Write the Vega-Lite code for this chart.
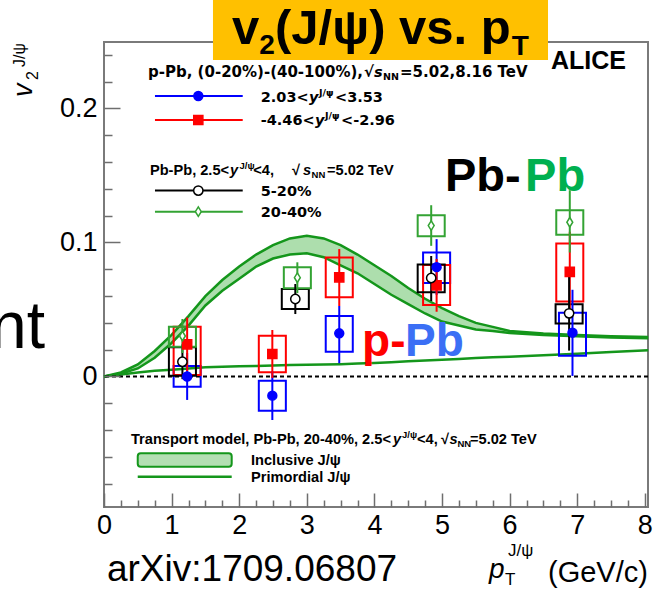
{
  "$schema": "https://vega.github.io/schema/vega-lite/v6.json",
  "width": 544,
  "height": 465,
  "autosize": "none",
  "padding": {"left": 104, "top": 42, "right": 5, "bottom": 83},
  "background": "white",
  "config": {
    "view": {"stroke": "#7a7a7a", "strokeWidth": 2},
    "axis": {"grid": false, "domain": false, "labelFont": "Liberation Sans", "labelFontSize": 27, "labelColor": "#000000", "tickColor": "#6e6e6e", "tickWidth": 1.5, "labelFlush": false, "labelOverlap": false, "labelBound": false, "title": null}
  },
  "datasets": {
    "model": [
      {"x": 0, "incLo": 0, "incHi": 0, "prim": 0},
      {"x": 0.25, "incLo": 0.002, "incHi": 0.003, "prim": 0.0015},
      {"x": 0.5, "incLo": 0.006, "incHi": 0.009, "prim": 0.003},
      {"x": 0.75, "incLo": 0.014, "incHi": 0.019, "prim": 0.0042},
      {"x": 1.0, "incLo": 0.025, "incHi": 0.031, "prim": 0.005},
      {"x": 1.25, "incLo": 0.038, "incHi": 0.045, "prim": 0.006},
      {"x": 1.5, "incLo": 0.053, "incHi": 0.06, "prim": 0.0068},
      {"x": 1.75, "incLo": 0.064, "incHi": 0.072, "prim": 0.0072},
      {"x": 2.0, "incLo": 0.073, "incHi": 0.082, "prim": 0.0076},
      {"x": 2.25, "incLo": 0.082, "incHi": 0.091, "prim": 0.0079},
      {"x": 2.5, "incLo": 0.088, "incHi": 0.098, "prim": 0.0082},
      {"x": 2.75, "incLo": 0.091, "incHi": 0.103, "prim": 0.0085},
      {"x": 3.0, "incLo": 0.092, "incHi": 0.105, "prim": 0.0087},
      {"x": 3.25, "incLo": 0.089, "incHi": 0.103, "prim": 0.0089},
      {"x": 3.5, "incLo": 0.083, "incHi": 0.098, "prim": 0.0092},
      {"x": 3.75, "incLo": 0.077, "incHi": 0.091, "prim": 0.0096},
      {"x": 4.0, "incLo": 0.069, "incHi": 0.083, "prim": 0.0101},
      {"x": 4.25, "incLo": 0.061, "incHi": 0.075, "prim": 0.0107},
      {"x": 4.5, "incLo": 0.054, "incHi": 0.066, "prim": 0.0113},
      {"x": 4.75, "incLo": 0.047, "incHi": 0.058, "prim": 0.0119},
      {"x": 5.0, "incLo": 0.041, "incHi": 0.051, "prim": 0.0125},
      {"x": 5.25, "incLo": 0.038, "incHi": 0.045, "prim": 0.0131},
      {"x": 5.5, "incLo": 0.035, "incHi": 0.04, "prim": 0.0137},
      {"x": 5.75, "incLo": 0.034, "incHi": 0.037, "prim": 0.0143},
      {"x": 6.0, "incLo": 0.0325, "incHi": 0.034, "prim": 0.0148},
      {"x": 6.5, "incLo": 0.031, "incHi": 0.032, "prim": 0.0159},
      {"x": 7.0, "incLo": 0.03, "incHi": 0.031, "prim": 0.017},
      {"x": 7.5, "incLo": 0.029, "incHi": 0.03, "prim": 0.0182},
      {"x": 8.05, "incLo": 0.0285, "incHi": 0.0295, "prim": 0.0195}
    ],
    "pts": [
      {"s": "fwd", "x": 1.23, "xLo": 1.03, "xHi": 1.43, "v": 0.0, "statLo": -0.0175, "statHi": 0.0175, "sysLo": -0.0076, "sysHi": 0.0078},
      {"s": "fwd", "x": 2.49, "xLo": 2.29, "xHi": 2.69, "v": -0.0143, "statLo": -0.0325, "statHi": 0.0039, "sysLo": -0.0255, "sysHi": -0.0031},
      {"s": "fwd", "x": 3.48, "xLo": 3.28, "xHi": 3.68, "v": 0.0322, "statLo": 0.0099, "statHi": 0.0526, "sysLo": 0.0185, "sysHi": 0.0451},
      {"s": "fwd", "x": 4.92, "xLo": 4.72, "xHi": 5.12, "v": 0.0816, "statLo": 0.0609, "statHi": 0.1025, "sysLo": 0.0698, "sysHi": 0.0925},
      {"s": "fwd", "x": 6.93, "xLo": 6.73, "xHi": 7.13, "v": 0.0327, "statLo": 0.0004, "statHi": 0.0647, "sysLo": 0.0155, "sysHi": 0.0475},
      {"s": "bwd", "x": 1.23, "xLo": 1.03, "xHi": 1.43, "v": 0.024, "statLo": 0.004, "statHi": 0.044, "sysLo": 0.0011, "sysHi": 0.0372},
      {"s": "bwd", "x": 2.49, "xLo": 2.29, "xHi": 2.69, "v": 0.0168, "statLo": -0.0011, "statHi": 0.0347, "sysLo": 0.0031, "sysHi": 0.0304},
      {"s": "bwd", "x": 3.48, "xLo": 3.28, "xHi": 3.68, "v": 0.074, "statLo": 0.0526, "statHi": 0.0951, "sysLo": 0.0591, "sysHi": 0.0887},
      {"s": "bwd", "x": 4.92, "xLo": 4.72, "xHi": 5.12, "v": 0.068, "statLo": 0.0483, "statHi": 0.0877, "sysLo": 0.0534, "sysHi": 0.0831},
      {"s": "bwd", "x": 6.89, "xLo": 6.69, "xHi": 7.09, "v": 0.0781, "statLo": 0.048, "statHi": 0.108, "sysLo": 0.0559, "sysHi": 0.0993},
      {"s": "c520", "x": 1.16, "xLo": 0.96, "xHi": 1.36, "v": 0.011, "statLo": -0.002, "statHi": 0.024, "sysLo": 0.0006, "sysHi": 0.0218},
      {"s": "c520", "x": 2.83, "xLo": 2.63, "xHi": 3.03, "v": 0.0578, "statLo": 0.0466, "statHi": 0.069, "sysLo": 0.0504, "sysHi": 0.0653},
      {"s": "c520", "x": 4.84, "xLo": 4.64, "xHi": 5.04, "v": 0.0735, "statLo": 0.0563, "statHi": 0.0899, "sysLo": 0.0629, "sysHi": 0.0836},
      {"s": "c520", "x": 6.88, "xLo": 6.68, "xHi": 7.08, "v": 0.0471, "statLo": 0.0193, "statHi": 0.0748, "sysLo": 0.0395, "sysHi": 0.0539},
      {"s": "c2040", "x": 1.16, "xLo": 0.96, "xHi": 1.36, "v": 0.0302, "statLo": 0.0175, "statHi": 0.0429, "sysLo": 0.0222, "sysHi": 0.0372},
      {"s": "c2040", "x": 2.86, "xLo": 2.66, "xHi": 3.06, "v": 0.0737, "statLo": 0.0622, "statHi": 0.0852, "sysLo": 0.0658, "sysHi": 0.0815},
      {"s": "c2040", "x": 4.84, "xLo": 4.64, "xHi": 5.04, "v": 0.1126, "statLo": 0.0975, "statHi": 0.1278, "sysLo": 0.1046, "sysHi": 0.1204},
      {"s": "c2040", "x": 6.89, "xLo": 6.69, "xHi": 7.09, "v": 0.1151, "statLo": 0.0925, "statHi": 0.139, "sysLo": 0.1058, "sysHi": 0.124}
    ],
    "leg": [
      {"s": "fwd", "y": 0.2093},
      {"s": "bwd", "y": 0.1914},
      {"s": "c520", "y": 0.1387},
      {"s": "c2040", "y": 0.123}
    ]
  },
  "resolve": {"axis": {"x": "independent", "y": "independent"}},
  "layer": [
    {
      "data": {"name": "model"},
      "mark": {"type": "area", "color": "#a9dca9", "opacity": 0.95},
      "encoding": {
        "x": {"field": "x", "type": "quantitative", "scale": {"domain": [0, 8.047], "nice": false, "zero": false},
              "axis": {"orient": "bottom", "values": [0, 1, 2, 3, 4, 5, 6, 7, 8], "format": "d", "ticks": false, "labelPadding": 5}},
        "y": {"field": "incLo", "type": "quantitative", "scale": {"domain": [-0.0974, 0.2496], "nice": false, "zero": false},
              "axis": {"orient": "left", "values": [0, 0.1, 0.2], "format": "~g", "ticks": false, "labelPadding": 7}},
        "y2": {"field": "incHi"}
      }
    },
    {
      "data": {"name": "model"},
      "mark": {"type": "line", "color": "#14961b", "strokeWidth": 2.5},
      "encoding": {
        "x": {"field": "x", "type": "quantitative",
              "axis": {"orient": "bottom", "values": [0, 1, 2, 3, 4, 5, 6, 7, 8], "labels": false, "tickSize": -14, "zindex": 1}},
        "y": {"field": "incHi", "type": "quantitative",
              "axis": {"orient": "left", "values": [0, 0.1, 0.2], "labels": false, "tickSize": -16, "zindex": 1}}
      }
    },
    {
      "data": {"name": "model"},
      "mark": {"type": "line", "color": "#14961b", "strokeWidth": 2.5},
      "encoding": {
        "x": {"field": "x", "type": "quantitative",
              "axis": {"orient": "bottom", "values": [0.25, 0.5, 0.75, 1.25, 1.5, 1.75, 2.25, 2.5, 2.75, 3.25, 3.5, 3.75, 4.25, 4.5, 4.75, 5.25, 5.5, 5.75, 6.25, 6.5, 6.75, 7.25, 7.5, 7.75], "labels": false, "tickSize": -7, "zindex": 1}},
        "y": {"field": "incLo", "type": "quantitative",
              "axis": {"orient": "left", "values": [-0.08, -0.06, -0.04, -0.02, 0.02, 0.04, 0.06, 0.08, 0.12, 0.14, 0.16, 0.18, 0.22, 0.24], "labels": false, "tickSize": -8, "zindex": 1}}
      }
    },
    {
      "data": {"name": "model"},
      "mark": {"type": "line", "color": "#14961b", "strokeWidth": 2.5},
      "encoding": {
        "x": {"field": "x", "type": "quantitative", "axis": null},
        "y": {"field": "prim", "type": "quantitative", "axis": null}
      }
    },
    {
      "data": {"values": [{}]},
      "mark": {"type": "rule", "color": "#000000", "strokeWidth": 2, "strokeDash": [4, 3]},
      "encoding": {"y": {"datum": 0, "type": "quantitative", "axis": null}}
    },
    {
      "data": {"name": "pts"},
      "mark": {"type": "rect", "filled": false, "strokeWidth": 2},
      "encoding": {
        "x": {"field": "xLo", "type": "quantitative", "axis": null},
        "x2": {"field": "xHi"},
        "y": {"field": "sysLo", "type": "quantitative", "axis": null},
        "y2": {"field": "sysHi"},
        "stroke": {"field": "s", "type": "nominal", "legend": null, "scale": {"domain": ["fwd", "bwd", "c520", "c2040"], "range": ["#0000ff", "#ff0000", "#000000", "#33a333"]}}
      }
    },
    {
      "data": {"name": "pts"},
      "mark": {"type": "rule", "strokeWidth": 2},
      "encoding": {
        "x": {"field": "x", "type": "quantitative", "axis": null},
        "y": {"field": "statLo", "type": "quantitative", "axis": null},
        "y2": {"field": "statHi"},
        "stroke": {"field": "s", "type": "nominal", "legend": null, "scale": {"domain": ["fwd", "bwd", "c520", "c2040"], "range": ["#0000ff", "#ff0000", "#000000", "#33a333"]}}
      }
    },
    {
      "data": {"name": "pts"},
      "mark": {"type": "point", "filled": true, "strokeWidth": 1.5, "opacity": 1},
      "encoding": {
        "x": {"field": "x", "type": "quantitative", "axis": null},
        "y": {"field": "v", "type": "quantitative", "axis": null},
        "shape": {"field": "s", "type": "nominal", "legend": null, "scale": {"domain": ["fwd", "bwd", "c520", "c2040"], "range": ["circle", "square", "circle", "M0,-1L0.62,0L0,1L-0.62,0Z"]}},
        "size": {"field": "s", "type": "nominal", "legend": null, "scale": {"domain": ["fwd", "bwd", "c520", "c2040"], "range": [80, 90, 95, 180]}},
        "fill": {"field": "s", "type": "nominal", "legend": null, "scale": {"domain": ["fwd", "bwd", "c520", "c2040"], "range": ["#0000ff", "#ff0000", "#ffffff", "#ffffff"]}},
        "stroke": {"field": "s", "type": "nominal", "legend": null, "scale": {"domain": ["fwd", "bwd", "c520", "c2040"], "range": ["#0000ff", "#ff0000", "#000000", "#33a333"]}}
      }
    },
    {
      "data": {"name": "leg"},
      "mark": {"type": "rule", "strokeWidth": 2},
      "encoding": {
        "x": {"datum": 0.754, "type": "quantitative", "axis": null},
        "x2": {"datum": 2.052},
        "y": {"field": "y", "type": "quantitative", "axis": null},
        "stroke": {"field": "s", "type": "nominal", "legend": null, "scale": {"domain": ["fwd", "bwd", "c520", "c2040"], "range": ["#0000ff", "#ff0000", "#000000", "#33a333"]}}
      }
    },
    {
      "data": {"name": "leg"},
      "mark": {"type": "point", "filled": true, "strokeWidth": 1.5, "opacity": 1},
      "encoding": {
        "x": {"datum": 1.395, "type": "quantitative", "axis": null},
        "y": {"field": "y", "type": "quantitative", "axis": null},
        "shape": {"field": "s", "type": "nominal", "legend": null, "scale": {"domain": ["fwd", "bwd", "c520", "c2040"], "range": ["circle", "square", "circle", "M0,-1L0.62,0L0,1L-0.62,0Z"]}},
        "size": {"field": "s", "type": "nominal", "legend": null, "scale": {"domain": ["fwd", "bwd", "c520", "c2040"], "range": [80, 90, 95, 180]}},
        "fill": {"field": "s", "type": "nominal", "legend": null, "scale": {"domain": ["fwd", "bwd", "c520", "c2040"], "range": ["#0000ff", "#ff0000", "#ffffff", "#ffffff"]}},
        "stroke": {"field": "s", "type": "nominal", "legend": null, "scale": {"domain": ["fwd", "bwd", "c520", "c2040"], "range": ["#0000ff", "#ff0000", "#000000", "#33a333"]}}
      }
    },
    {
      "data": {"values": [{}]},
      "mark": {"type": "rect", "fill": "#b3dfb3", "stroke": "#14961b", "strokeWidth": 2, "cornerRadius": 3},
      "encoding": {
        "x": {"datum": 0.499, "type": "quantitative", "axis": null},
        "x2": {"datum": 1.889},
        "y": {"datum": -0.0573, "type": "quantitative", "axis": null},
        "y2": {"datum": -0.0673}
      }
    },
    {
      "data": {"values": [{}]},
      "mark": {"type": "rule", "color": "#14961b", "strokeWidth": 2.5},
      "encoding": {
        "x": {"datum": 0.499, "type": "quantitative", "axis": null},
        "x2": {"datum": 1.889},
        "y": {"datum": -0.0748, "type": "quantitative", "axis": null}
      }
    },
    {
      "data": {"values": [{}]},
      "mark": {"type": "rect", "fill": "#ffc000"},
      "encoding": {
        "x": {"datum": 1.612, "type": "quantitative", "axis": null},
        "x2": {"datum": 6.568},
        "y": {"datum": 0.281, "type": "quantitative", "axis": null},
        "y2": {"datum": 0.2362}
      }
    },
    {
      "data": {"values": [
        {"x": 0.651, "y": 0.2235, "t": "p-Pb, (0-20%)-(40-100%),"},
        {"x": 3.846, "y": 0.2235, "t": "√"},
        {"x": 4.379, "y": 0.2235, "t": "=5.02,8.16 TeV"}
      ]},
      "mark": {"type": "text", "font": "DejaVu Sans", "fontWeight": "bold", "fontSize": 15, "align": "left", "baseline": "alphabetic", "color": "#000000"},
      "encoding": {"x": {"field": "x", "type": "quantitative", "axis": null}, "y": {"field": "y", "type": "quantitative", "axis": null}, "text": {"field": "t"}}
    },
    {
      "data": {"values": [
        {"x": 2.318, "y": 0.205, "t": "2.03<"},
        {"x": 3.417, "y": 0.205, "t": "<3.53"},
        {"x": 2.318, "y": 0.1875, "t": "-4.46<"},
        {"x": 3.506, "y": 0.1875, "t": "<-2.96"},
        {"x": 2.318, "y": 0.1347, "t": "5-20%"},
        {"x": 2.318, "y": 0.119, "t": "20-40%"}
      ]},
      "mark": {"type": "text", "font": "DejaVu Sans", "fontWeight": "bold", "fontSize": 14.5, "align": "left", "baseline": "alphabetic", "color": "#000000"},
      "encoding": {"x": {"field": "x", "type": "quantitative", "axis": null}, "y": {"field": "y", "type": "quantitative", "axis": null}, "text": {"field": "t"}}
    },
    {
      "data": {"values": [
        {"x": 3.994, "y": 0.2235, "t": "s"},
        {"x": 3.033, "y": 0.205, "t": "y"},
        {"x": 3.121, "y": 0.1875, "t": "y"}
      ]},
      "mark": {"type": "text", "font": "DejaVu Sans", "fontWeight": "bold", "fontStyle": "italic", "fontSize": 14.5, "align": "left", "baseline": "alphabetic", "color": "#000000"},
      "encoding": {"x": {"field": "x", "type": "quantitative", "axis": null}, "y": {"field": "y", "type": "quantitative", "axis": null}, "text": {"field": "t"}}
    },
    {
      "data": {"values": [
        {"x": 4.127, "y": 0.2213, "t": "NN"},
        {"x": 3.18, "y": 0.2095, "t": "J/ψ"},
        {"x": 3.269, "y": 0.1921, "t": "J/ψ"}
      ]},
      "mark": {"type": "text", "font": "DejaVu Sans", "fontWeight": "bold", "fontSize": 9.5, "align": "left", "baseline": "alphabetic", "color": "#000000"},
      "encoding": {"x": {"field": "x", "type": "quantitative", "axis": null}, "y": {"field": "y", "type": "quantitative", "axis": null}, "text": {"field": "t"}}
    },
    {
      "data": {"values": [
        {"x": 0.68, "y": 0.1507, "t": "Pb-Pb, 2.5<"},
        {"x": 2.209, "y": 0.1507, "t": "<4,"},
        {"x": 2.781, "y": 0.1507, "t": "√"},
        {"x": 3.299, "y": 0.1507, "t": "=5.02 TeV"},
        {"x": 0.399, "y": -0.0501, "t": "Transport model, Pb-Pb, 20-40%, 2.5<"},
        {"x": 4.63, "y": -0.0501, "t": "<4,"},
        {"x": 4.985, "y": -0.0501, "t": "√"},
        {"x": 5.414, "y": -0.0501, "t": "=5.02 TeV"},
        {"x": 2.175, "y": -0.0657, "t": "Inclusive J/ψ"},
        {"x": 2.175, "y": -0.0787, "t": "Primordial J/ψ"}
      ]},
      "mark": {"type": "text", "font": "Liberation Sans", "fontWeight": "bold", "fontSize": 14.6, "align": "left", "baseline": "alphabetic", "color": "#000000"},
      "encoding": {"x": {"field": "x", "type": "quantitative", "axis": null}, "y": {"field": "y", "type": "quantitative", "axis": null}, "text": {"field": "t"}}
    },
    {
      "data": {"values": [
        {"x": 1.864, "y": 0.1507, "t": "y"},
        {"x": 2.944, "y": 0.1507, "t": "s"},
        {"x": 4.275, "y": -0.0501, "t": "y"},
        {"x": 5.111, "y": -0.0501, "t": "s"}
      ]},
      "mark": {"type": "text", "font": "Liberation Sans", "fontWeight": "bold", "fontStyle": "italic", "fontSize": 14.6, "align": "left", "baseline": "alphabetic", "color": "#000000"},
      "encoding": {"x": {"field": "x", "type": "quantitative", "axis": null}, "y": {"field": "y", "type": "quantitative", "axis": null}, "text": {"field": "t"}}
    },
    {
      "data": {"values": [
        {"x": 2.004, "y": 0.1552, "t": "J/ψ"},
        {"x": 3.07, "y": 0.1484, "t": "NN"},
        {"x": 4.408, "y": -0.0456, "t": "J/ψ"},
        {"x": 5.229, "y": -0.0523, "t": "NN"}
      ]},
      "mark": {"type": "text", "font": "Liberation Sans", "fontWeight": "bold", "fontSize": 9.5, "align": "left", "baseline": "alphabetic", "color": "#000000"},
      "encoding": {"x": {"field": "x", "type": "quantitative", "axis": null}, "y": {"field": "y", "type": "quantitative", "axis": null}, "text": {"field": "t"}}
    },
    {
      "data": {"values": [
        {"x": 1.893, "y": 0.2481, "t": "v"},
        {"x": 2.53, "y": 0.2481, "t": "(J/ψ) vs. p"}
      ]},
      "mark": {"type": "text", "font": "Liberation Sans", "fontWeight": "bold", "fontSize": 49, "align": "left", "baseline": "alphabetic", "color": "#000000"},
      "encoding": {"x": {"field": "x", "type": "quantitative", "axis": null}, "y": {"field": "y", "type": "quantitative", "axis": null}, "text": {"field": "t"}}
    },
    {
      "data": {"values": [
        {"x": 2.296, "y": 0.2407, "t": "2"},
        {"x": 6.03, "y": 0.24, "t": "T"}
      ]},
      "mark": {"type": "text", "font": "Liberation Sans", "fontWeight": "bold", "fontSize": 28, "align": "left", "baseline": "alphabetic", "color": "#000000"},
      "encoding": {"x": {"field": "x", "type": "quantitative", "axis": null}, "y": {"field": "y", "type": "quantitative", "axis": null}, "text": {"field": "t"}}
    },
    {
      "data": {"values": [{"x": 6.612, "y": 0.2295, "t": "ALICE"}]},
      "mark": {"type": "text", "font": "Liberation Sans", "fontWeight": "bold", "fontSize": 25, "align": "left", "baseline": "alphabetic", "color": "#000000"},
      "encoding": {"x": {"field": "x", "type": "quantitative", "axis": null}, "y": {"field": "y", "type": "quantitative", "axis": null}, "text": {"field": "t"}}
    },
    {
      "data": {"values": [{"x": 5.044, "y": 0.1387, "t": "Pb-"}]},
      "mark": {"type": "text", "font": "Liberation Sans", "fontWeight": "bold", "fontSize": 47, "align": "left", "baseline": "alphabetic", "color": "#000000"},
      "encoding": {"x": {"field": "x", "type": "quantitative", "axis": null}, "y": {"field": "y", "type": "quantitative", "axis": null}, "text": {"field": "t"}}
    },
    {
      "data": {"values": [{"x": 6.228, "y": 0.1387, "t": "Pb"}]},
      "mark": {"type": "text", "font": "Liberation Sans", "fontWeight": "bold", "fontSize": 47, "align": "left", "baseline": "alphabetic", "color": "#00b050"},
      "encoding": {"x": {"field": "x", "type": "quantitative", "axis": null}, "y": {"field": "y", "type": "quantitative", "axis": null}, "text": {"field": "t"}}
    },
    {
      "data": {"values": [{"x": 3.817, "y": 0.0153, "t": "p-"}]},
      "mark": {"type": "text", "font": "Liberation Sans", "fontWeight": "bold", "fontSize": 46, "align": "left", "baseline": "alphabetic", "color": "#ff0000"},
      "encoding": {"x": {"field": "x", "type": "quantitative", "axis": null}, "y": {"field": "y", "type": "quantitative", "axis": null}, "text": {"field": "t"}}
    },
    {
      "data": {"values": [{"x": 4.453, "y": 0.0153, "t": "Pb"}]},
      "mark": {"type": "text", "font": "Liberation Sans", "fontWeight": "bold", "fontSize": 46, "align": "left", "baseline": "alphabetic", "color": "#3b6ff5"},
      "encoding": {"x": {"field": "x", "type": "quantitative", "axis": null}, "y": {"field": "y", "type": "quantitative", "axis": null}, "text": {"field": "t"}}
    },
    {
      "data": {"values": [{"x": -0.873, "y": 0.0213, "t": "nt"}]},
      "mark": {"type": "text", "font": "Liberation Sans", "fontSize": 66, "align": "right", "baseline": "alphabetic", "color": "#000000"},
      "encoding": {"x": {"field": "x", "type": "quantitative", "axis": null}, "y": {"field": "y", "type": "quantitative", "axis": null}, "text": {"field": "t"}}
    },
    {
      "data": {"values": [{"x": 0.044, "y": -0.1527, "t": "arXiv:1709.06807"}]},
      "mark": {"type": "text", "font": "Liberation Sans", "fontSize": 37, "align": "left", "baseline": "alphabetic", "color": "#000000"},
      "encoding": {"x": {"field": "x", "type": "quantitative", "axis": null}, "y": {"field": "y", "type": "quantitative", "axis": null}, "text": {"field": "t"}}
    },
    {
      "data": {"values": [{"x": 5.695, "y": -0.1504, "t": "p"}]},
      "mark": {"type": "text", "font": "Liberation Sans", "fontStyle": "italic", "fontSize": 28, "align": "left", "baseline": "alphabetic", "color": "#000000"},
      "encoding": {"x": {"field": "x", "type": "quantitative", "axis": null}, "y": {"field": "y", "type": "quantitative", "axis": null}, "text": {"field": "t"}}
    },
    {
      "data": {"values": [{"x": 6.568, "y": -0.1534, "t": "(GeV/c)"}]},
      "mark": {"type": "text", "font": "Liberation Sans", "fontSize": 29, "align": "left", "baseline": "alphabetic", "color": "#000000"},
      "encoding": {"x": {"field": "x", "type": "quantitative", "axis": null}, "y": {"field": "y", "type": "quantitative", "axis": null}, "text": {"field": "t"}}
    },
    {
      "data": {"values": [
        {"x": 5.976, "y": -0.134, "t": "J/ψ"},
        {"x": 5.932, "y": -0.1556, "t": "T"}
      ]},
      "mark": {"type": "text", "font": "Liberation Sans", "fontSize": 17, "align": "left", "baseline": "alphabetic", "color": "#000000"},
      "encoding": {"x": {"field": "x", "type": "quantitative", "axis": null}, "y": {"field": "y", "type": "quantitative", "axis": null}, "text": {"field": "t"}}
    },
    {
      "data": {"values": [{"x": -1.065, "y": 0.2086, "t": "v"}]},
      "mark": {"type": "text", "font": "Liberation Sans", "fontStyle": "italic", "fontSize": 27, "angle": 270, "align": "left", "baseline": "alphabetic", "color": "#000000"},
      "encoding": {"x": {"field": "x", "type": "quantitative", "axis": null}, "y": {"field": "y", "type": "quantitative", "axis": null}, "text": {"field": "t"}}
    },
    {
      "data": {"values": [
        {"x": -0.976, "y": 0.2213, "t": "2"},
        {"x": -1.169, "y": 0.231, "t": "J/ψ"}
      ]},
      "mark": {"type": "text", "font": "Liberation Sans", "fontSize": 16, "angle": 270, "align": "left", "baseline": "alphabetic", "color": "#000000"},
      "encoding": {"x": {"field": "x", "type": "quantitative", "axis": null}, "y": {"field": "y", "type": "quantitative", "axis": null}, "text": {"field": "t"}}
    }
  ]
}
